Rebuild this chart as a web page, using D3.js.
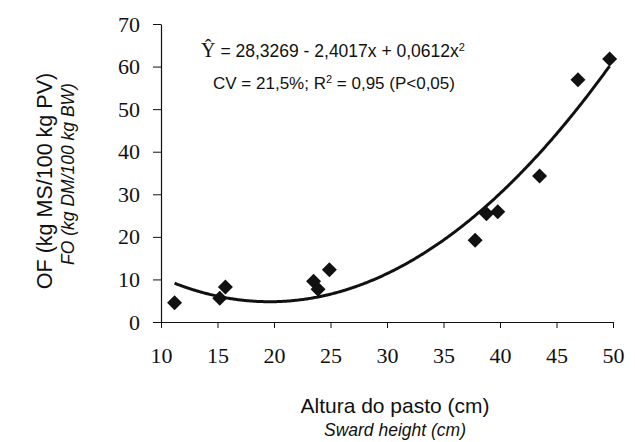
<!DOCTYPE html>
<html><head><meta charset="utf-8">
<script src="https://cdn.jsdelivr.net/npm/d3@7"></script>
<style>body{margin:0;background:#fff}svg{display:block}.tick text{font-family:"Liberation Serif","Times New Roman",serif !important}</style>
</head><body>
<svg id="c" width="635" height="442"></svg>
<script>
const heights = [11.2, 15.2, 15.7, 23.5, 23.9, 24.9, 37.8, 38.8, 39.8, 43.5, 46.9, 49.7];
const offer   = [4.5, 5.6, 8.2, 9.6, 7.7, 12.3, 19.2, 25.4, 25.9, 34.3, 56.9, 61.8];
const coef = [28.3269, -2.4017, 0.0612];
const fitRange = [11.2, 49.7];
const xTicks = [10, 15, 20, 25, 30, 35, 40, 45, 50];
const yTicks = [0, 10, 20, 30, 40, 50, 60, 70];

const svg = d3.select("#c");
const x = d3.scaleLinear().domain([10, 50]).range([161, 613]);
const y = d3.scaleLinear().domain([0, 70]).range([322, 24]);
const ink = "#111";
const serif = "Liberation Serif";
const sans = "Liberation Sans";

const xa = svg.append("g").attr("transform", "translate(0,322)")
  .call(d3.axisBottom(x).tickValues(xTicks).tickSize(6).tickSizeOuter(0).tickPadding(19));
const ya = svg.append("g").attr("transform", "translate(161,0)")
  .call(d3.axisLeft(y).tickValues(yTicks).tickSize(8).tickSizeOuter(0).tickPadding(13));
[xa, ya].forEach(a => {
  a.attr("font-family", serif).attr("font-size", 22);
  a.select(".domain").attr("stroke", ink).attr("stroke-width", 1.2);
  a.selectAll(".tick line").attr("stroke", ink).attr("stroke-width", 1);
  a.selectAll(".tick text").attr("fill", ink).attr("font-family", serif).attr("font-size", 22);
});

// fitted curve
const xs = d3.range(fitRange[0], fitRange[1] + 0.001, 0.1);
const line = d3.line().x(d => x(d)).y(d => y(coef[0] + coef[1] * d + coef[2] * d * d));
svg.append("path").datum(xs).attr("d", line).attr("fill", "none").attr("stroke", ink).attr("stroke-width", 3);

// points
const r = 7.5;
svg.append("g").selectAll("path").data(heights.map((h, i) => [h, offer[i]])).join("path")
  .attr("transform", d => `translate(${x(d[0])},${y(d[1])})`)
  .attr("d", `M0,${-r}L${r},0L0,${r}L${-r},0Z`).attr("fill", ink);

// equation
const eq = svg.append("text").attr("x", 333).attr("y", 57).attr("text-anchor", "middle")
  .attr("font-family", sans).attr("font-size", 17.5).attr("fill", ink);
eq.append("tspan").attr("font-family", serif).attr("font-size", 20).text("Ŷ");
eq.append("tspan").text(" = 28,3269 - 2,4017x + 0,0612x");
eq.append("tspan").attr("dy", -6).attr("font-size", 11).text("2");
const cv = svg.append("text").attr("x", 334).attr("y", 89).attr("text-anchor", "middle")
  .attr("font-family", sans).attr("font-size", 17).attr("fill", ink);
cv.append("tspan").text("CV = 21,5%; R");
cv.append("tspan").attr("dy", -6).attr("font-size", 11).text("2");
cv.append("tspan").attr("dy", 6).text(" = 0,95 (P<0,05)");

// axis titles
svg.append("text").attr("x", 395).attr("y", 413).attr("text-anchor", "middle")
  .attr("font-family", sans).attr("font-size", 21).attr("fill", ink).text("Altura do pasto (cm)");
svg.append("text").attr("x", 395).attr("y", 436).attr("text-anchor", "middle")
  .attr("font-family", sans).attr("font-size", 17.5).attr("font-style", "italic").attr("fill", ink).text("Sward height (cm)");
svg.append("text").attr("transform", "translate(52,181) rotate(-90)").attr("text-anchor", "middle")
  .attr("font-family", sans).attr("font-size", 21.5).attr("fill", ink).text("OF (kg MS/100 kg PV)");
svg.append("text").attr("transform", "translate(74,174) rotate(-90)").attr("text-anchor", "middle")
  .attr("font-family", sans).attr("font-size", 17.5).attr("font-style", "italic").attr("fill", ink).text("FO (kg DM/100 kg BW)");
</script>
</body></html>
